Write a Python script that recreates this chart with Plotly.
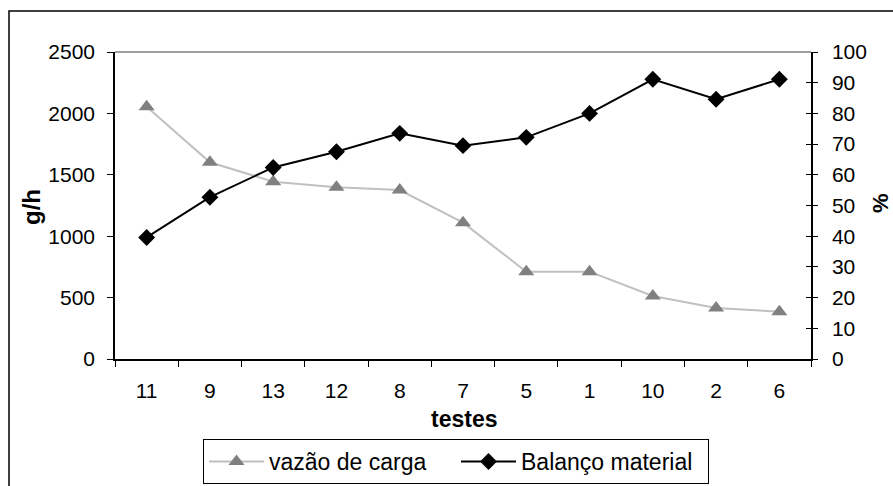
import plotly.graph_objects as go

testes = ["11", "9", "13", "12", "8", "7", "5", "1", "10", "2", "6"]
vazao_carga = [2055, 1602, 1444, 1398, 1376, 1110, 711, 711, 513, 415, 385]
balanco_material = [39.6, 52.7, 62.4, 67.5, 73.5, 69.5, 72.2, 80.0, 91.1, 84.6, 91.1]

FONT = "Liberation Sans, Arial, sans-serif"
W, H = 893, 486
L, R, T, B = 115, 82, 52, 127
pw, ph = W - L - R, H - T - B

def px(x):
    return (x - L) / pw

def py(y):
    return (H - B - y) / ph

fig = go.Figure()
fig.add_trace(go.Scatter(
    x=testes, y=vazao_carga, name="vazão de carga", mode="lines+markers",
    line=dict(color="#C0C0C0", width=2),
    marker=dict(symbol="triangle-up", size=14, color="#808080"),
    yaxis="y",
))
fig.add_trace(go.Scatter(
    x=testes, y=balanco_material, name="Balanço material", mode="lines+markers",
    line=dict(color="#000000", width=2),
    marker=dict(symbol="diamond", size=13, color="#000000"),
    yaxis="y2",
))

fig.update_layout(
    width=W, height=H,
    margin=dict(l=L, r=R, t=T, b=B, pad=0, autoexpand=False),
    paper_bgcolor="white", plot_bgcolor="white",
    font=dict(family=FONT, size=21, color="black"),
    showlegend=True,
    legend=dict(
        orientation="h", x=px(203), xanchor="left", y=py(439), yanchor="top",
        bordercolor="black", borderwidth=1, font=dict(size=23),
        bgcolor="white", itemwidth=55, entrywidth=182, entrywidthmode="pixels",
    ),
    xaxis=dict(
        type="category", range=[-0.5, 10.5], showgrid=False,
        showline=True, linecolor="black", linewidth=1.5,
        ticks="outside", ticklen=6, tickcolor="black", tickwidth=1,
        tickson="boundaries", ticklabelstandoff=12,
    ),
    yaxis=dict(
        range=[0, 2500], dtick=500, showgrid=False, zeroline=False,
        showline=True, linecolor="black", linewidth=1.5,
        ticks="outside", ticklen=6, tickcolor="black", tickwidth=1,
        ticklabelstandoff=8,
    ),
    yaxis2=dict(
        range=[0, 100], dtick=10, overlaying="y", side="right", anchor="x",
        showgrid=False, zeroline=False,
        showline=True, linecolor="black", linewidth=1.5,
        ticks="outside", ticklen=5, tickcolor="black", tickwidth=1,
        ticklabelstandoff=10,
    ),
    yaxis3=dict(
        range=[0, 100], dtick=10, overlaying="y", side="right", anchor="x",
        showgrid=False, zeroline=False, showline=False,
        ticks="inside", ticklen=5, tickcolor="black", tickwidth=1,
        showticklabels=False,
    ),
    shapes=[
        dict(type="rect", xref="paper", yref="paper",
             x0=px(9), x1=px(905), y0=py(11), y1=py(500),
             line=dict(color="black", width=1.5), fillcolor="rgba(0,0,0,0)", layer="below"),
        dict(type="line", xref="paper", yref="paper",
             x0=0, x1=1, y0=1, y1=1, line=dict(color="#808080", width=1.5)),
    ],
    annotations=[
        dict(text="<b>g/h</b>", xref="paper", yref="paper", x=px(31), y=py(207),
             showarrow=False, textangle=-90, font=dict(size=24),
             xanchor="center", yanchor="middle"),
        dict(text="<b>%</b>", xref="paper", yref="paper", x=px(880), y=py(203),
             showarrow=False, textangle=-90, font=dict(size=22),
             xanchor="center", yanchor="middle"),
        dict(text="<b>testes</b>", xref="paper", yref="paper", x=px(464), y=py(419),
             showarrow=False, font=dict(size=23),
             xanchor="center", yanchor="middle"),
    ],
)
fig.add_trace(go.Scatter(x=[testes[0]], y=[None], yaxis="y3", showlegend=False,
                         hoverinfo="skip", mode="markers"))

fig.write_html("out.html")
